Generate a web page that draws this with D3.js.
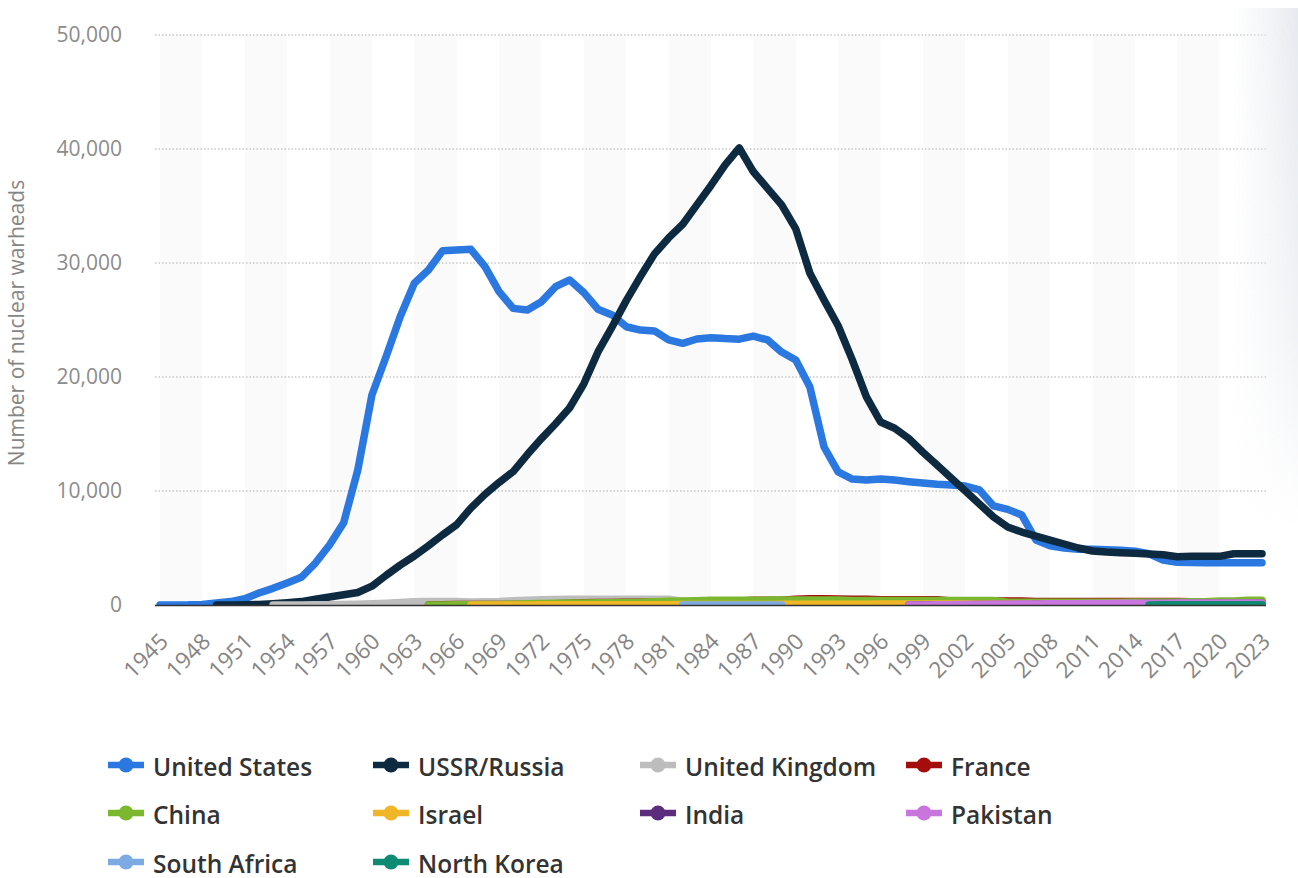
<!DOCTYPE html>
<html>
<head>
<meta charset="utf-8">
<script src="https://cdn.jsdelivr.net/npm/d3@7"></script>
<style>
  html, body { margin: 0; padding: 0; background: #fff; }
  svg { display: block; font-family: 'Open Sans', 'Noto Sans', sans-serif; }
</style>
</head>
<body>
<div id="chart"></div>
<script>
// Nuclear warhead stockpiles by country, 1945-2023

const firstYear = 1945;
const lastYear = 2023;
const tickYears = [1945, 1948, 1951, 1954, 1957, 1960, 1963, 1966, 1969, 1972, 1975, 1978, 1981,
  1984, 1987, 1990, 1993, 1996, 1999, 2002, 2005, 2008, 2011, 2014, 2017, 2020, 2023];
const yTicks = [0, 10000, 20000, 30000, 40000, 50000];

// values start at the "start" year of each series, one per year
const usStart = 1945;
const usValues = [
  2, 9, 13, 50, 170, 300, 550, 1050, 1460, 1930,            // 1945-1954
  2430, 3680, 5260, 7220, 11840, 18420, 21780, 25290, 28220, 29390, // 1955-1964
  31080, 31140, 31200, 29680, 27490, 26020, 25880, 26610, 27920, 28510, // 1965-1974
  27400, 25940, 25440, 24410, 24120, 24040, 23250, 22950, 23330, 23450, // 1975-1984
  23370, 23320, 23580, 23250, 22190, 21490, 19120, 13860, 11670, 11050, // 1985-1994
  10960, 11050, 10960, 10820, 10700, 10590, 10530, 10440, 10090, 8690,  // 1995-2004
  8390, 7890, 5700, 5200, 5000, 4900, 4880, 4850, 4800, 4720,           // 2005-2014
  4500, 3950, 3750, 3720, 3710, 3700, 3700, 3700, 3700                  // 2015-2023
];

const ussrStart = 1949;
const ussrValues = [
  1, 5, 25, 50, 120, 200, 300, 500, 700, 900,                // 1949-1958
  1100, 1650, 2600, 3500, 4300, 5200, 6150, 7050, 8500, 9700, // 1959-1968
  10750, 11700, 13200, 14600, 15900, 17300, 19400, 22200, 24400, 26700, // 1969-1978
  28800, 30800, 32200, 33400, 35100, 36800, 38600, 40100, 38000, 36550, // 1979-1988
  35100, 33000, 29100, 26750, 24500, 21500, 18250, 16050, 15500, 14600, // 1989-1998
  13400, 12280, 11140, 10000, 8860, 7720, 6840, 6400, 6050, 5700,       // 1999-2008
  5350, 5000, 4740, 4650, 4590, 4530, 4470, 4410, 4240, 4270,           // 2009-2018
  4270, 4270, 4490, 4490, 4490                                          // 2019-2023
];

const ukStart = 1953;
const ukValues = [
  1, 5, 10, 20, 30, 40, 60, 100, 150, 210,        // 1953-1962
  280, 310, 310, 310, 270, 280, 308, 375, 420, 450, // 1963-1972
  480, 500, 500, 500, 500, 500, 500, 500, 500, 335, // 1973-1982
  320, 270, 300, 300, 300, 300, 300, 300, 300, 300, // 1983-1992
  300, 250, 280, 280, 280, 280, 280, 280, 280, 280, // 1993-2002
  280, 280, 280, 225, 225, 225, 225, 225, 225, 225, // 2003-2012
  225, 225, 225, 225, 225, 225, 225, 225, 225, 225, 225 // 2013-2023
];

const franceStart = 1964;
const franceValues = [
  4, 32, 36, 36, 36, 36, 36, 45, 70, 116,          // 1964-1973
  145, 188, 212, 228, 235, 235, 250, 274, 274, 279, // 1974-1983
  280, 360, 355, 420, 411, 412, 504, 538, 540, 525, // 1984-1993
  510, 500, 450, 450, 450, 450, 470, 350, 350, 350, // 1994-2003
  350, 350, 350, 300, 300, 300, 300, 300, 300, 300, // 2004-2013
  300, 300, 300, 300, 290, 290, 290, 290, 290, 290  // 2014-2023
];

const chinaStart = 1964;
const chinaValues = [
  1, 5, 20, 25, 35, 50, 75, 100, 130, 150,          // 1964-1973
  170, 185, 190, 200, 220, 235, 280, 330, 360, 380, // 1974-1983
  415, 425, 425, 415, 430, 430, 430, 435, 435, 435, // 1984-1993
  400, 400, 400, 400, 400, 400, 400, 400, 400, 400, // 1994-2003
  400, 235, 235, 235, 240, 240, 240, 240, 250, 250, // 2004-2013
  260, 260, 260, 270, 280, 290, 350, 350, 410, 410  // 2014-2023
];

const israelStart = 1967;
const israelValues = [
  2, 4, 6, 8, 10, 12, 14, 16, 18, 20,     // 1967-1976
  22, 24, 26, 28, 31, 34, 37, 40, 43, 46, // 1977-1986
  50, 53, 56, 59, 62, 65, 68, 71, 74, 77, // 1987-1996
  80, 80, 80, 80, 80, 80, 80, 80, 80, 80, // 1997-2006
  80, 80, 80, 80, 80, 80, 80, 80, 80, 80, // 2007-2016
  80, 80, 90, 90, 90, 90, 90              // 2017-2023
];

const indiaStart = 1998;
const indiaValues = [
  10, 15, 20, 25, 30, 35, 40, 45, 50, 55,
  60, 70, 80, 90, 100, 110, 120, 130, 130, 135,
  140, 150, 156, 160, 164, 172
];

const pakistanStart = 1998;
const pakistanValues = [
  5, 10, 20, 30, 40, 50, 60, 70, 80, 90,
  100, 110, 120, 130, 140, 150, 155, 160, 160, 165,
  165, 165, 165, 165, 170, 170
];

const southAfricaStart = 1982;
const southAfricaValues = [1, 2, 3, 4, 5, 6, 6, 6];

const northKoreaStart = 2015;
const northKoreaValues = [10, 15, 20, 25, 30, 30, 30, 30, 30];

const seriesNames = ['United States', 'USSR/Russia', 'United Kingdom', 'France', 'China',
  'Israel', 'India', 'Pakistan', 'South Africa', 'North Korea'];
const seriesColors = ['#2a78e0', '#0e2a40', '#bdbdbd', '#a50d0d', '#7cb82f',
  '#efb628', '#5c2d7d', '#c875de', '#7eaae3', '#0e8b70'];
const seriesStarts = [usStart, ussrStart, ukStart, franceStart, chinaStart,
  israelStart, indiaStart, pakistanStart, southAfricaStart, northKoreaStart];
const seriesValues = [usValues, ussrValues, ukValues, franceValues, chinaValues,
  israelValues, indiaValues, pakistanValues, southAfricaValues, northKoreaValues];

const width = 1298;
const height = 878;
const plot = { left: 155, right: 1266, top: 35, bottom: 605 };

const svg = d3.select('#chart').append('svg')
  .attr('width', width)
  .attr('height', height);

const defs = svg.append('defs');

// x: years, y: warheads
const x = d3.scaleLinear().domain([firstYear, lastYear]).range([160, 1262]);
const y = d3.scaleLinear().domain([0, 50000]).range([plot.bottom, plot.top]);

// alternating column bands, one every 3 years
const bandStarts = tickYears.filter((d, i) => i % 2 === 0 && d < lastYear);
svg.append('g')
  .selectAll('rect')
  .data(bandStarts)
  .join('rect')
  .attr('x', d => x(d))
  .attr('y', plot.top)
  .attr('width', d => x(d + 3) - x(d))
  .attr('height', plot.bottom - plot.top)
  .attr('fill', '#fafafa');

// dotted gridlines
svg.append('g')
  .selectAll('line')
  .data(yTicks.filter(d => d > 0))
  .join('line')
  .attr('x1', plot.left)
  .attr('x2', plot.right)
  .attr('y1', d => y(d))
  .attr('y2', d => y(d))
  .attr('stroke', '#c8c8c8')
  .attr('stroke-width', 1.5)
  .attr('stroke-dasharray', '1.5,2');

// y axis labels
const yAxis = d3.axisLeft(y)
  .tickValues(yTicks)
  .tickSize(0)
  .tickPadding(0)
  .tickFormat(d3.format(','));

svg.append('g')
  .attr('transform', 'translate(122,0)')
  .call(yAxis)
  .call(g => g.select('.domain').remove())
  .selectAll('text')
  .attr('font-family', "'Open Sans', sans-serif")
  .attr('font-size', 21)
  .attr('fill', '#8c8c8c');

// y axis title
svg.append('text')
  .attr('transform', 'translate(24,323) rotate(-90)')
  .attr('text-anchor', 'middle')
  .attr('font-size', 21)
  .attr('fill', '#858585')
  .text('Number of nuclear warheads');

// x axis labels, rotated
const xAxis = d3.axisBottom(x)
  .tickValues(tickYears)
  .tickSize(0)
  .tickPadding(0)
  .tickFormat(d3.format('d'));

svg.append('g')
  .attr('transform', `translate(0,${plot.bottom})`)
  .call(xAxis)
  .call(g => g.select('.domain').remove())
  .selectAll('text')
  .attr('font-family', "'Open Sans', sans-serif")
  .attr('font-size', 22.5)
  .attr('fill', '#858585')
  .attr('text-anchor', 'end')
  .attr('dy', null)
  .attr('y', 0)
  .attr('transform', 'translate(9,38) rotate(-45)');

// clip series to the plot area
defs.append('clipPath')
  .attr('id', 'plot-clip')
  .append('rect')
  .attr('x', 0)
  .attr('y', 0)
  .attr('width', width)
  .attr('height', plot.bottom);

const line = d3.line()
  .x(d => x(d.year))
  .y(d => y(d.value));

const series = seriesNames.map((name, i) => ({
  name,
  color: seriesColors[i],
  points: seriesValues[i].map((v, j) => ({ year: seriesStarts[i] + j, value: v }))
}));

svg.append('g')
  .attr('clip-path', 'url(#plot-clip)')
  .selectAll('path')
  .data(series)
  .join('path')
  .attr('d', d => line(d.points))
  .attr('fill', 'none')
  .attr('stroke', d => d.color)
  .attr('stroke-width', 7.5)
  .attr('stroke-linejoin', 'round')
  .attr('stroke-linecap', 'round');

// baseline
svg.append('line')
  .attr('x1', plot.left)
  .attr('x2', plot.right)
  .attr('y1', plot.bottom + 0.5)
  .attr('y2', plot.bottom + 0.5)
  .attr('stroke', '#333')
  .attr('stroke-width', 1.5);

// legend, 4 columns
const legendCols = [108, 373, 640, 906];
const legendRows = [767, 815, 864];

const legend = svg.append('g')
  .selectAll('g')
  .data(series)
  .join('g')
  .attr('transform', (d, i) => `translate(${legendCols[i % 4]},${legendRows[Math.floor(i / 4)]})`);

legend.append('line')
  .attr('x1', 0)
  .attr('x2', 36)
  .attr('y1', -2)
  .attr('y2', -2)
  .attr('stroke', d => d.color)
  .attr('stroke-width', 6.5);

legend.append('circle')
  .attr('cx', 18)
  .attr('cy', -2)
  .attr('r', 7.5)
  .attr('fill', d => d.color);

legend.append('text')
  .attr('x', 45)
  .attr('y', 8.5)
  .attr('font-size', 24.5)
  .attr('font-weight', 600)
  .attr('fill', '#333')
  .text(d => d.name);

// soft shadow at the right edge of the frame
const hGrad = defs.append('linearGradient')
  .attr('id', 'edge-h')
  .attr('x1', 0).attr('x2', 1).attr('y1', 0).attr('y2', 0);
hGrad.append('stop').attr('offset', 0).attr('stop-color', '#eef0f4').attr('stop-opacity', 0);
hGrad.append('stop').attr('offset', 1).attr('stop-color', '#e6e9ee').attr('stop-opacity', 1);

const vGrad = defs.append('linearGradient')
  .attr('id', 'edge-v')
  .attr('x1', 0).attr('x2', 0).attr('y1', 0).attr('y2', 1);
vGrad.append('stop').attr('offset', 0).attr('stop-color', '#fff').attr('stop-opacity', 1);
vGrad.append('stop').attr('offset', 0.6).attr('stop-color', '#fff').attr('stop-opacity', 0.6);
vGrad.append('stop').attr('offset', 1).attr('stop-color', '#fff').attr('stop-opacity', 0);

defs.append('mask')
  .attr('id', 'edge-mask')
  .append('rect')
  .attr('x', 1230).attr('y', 8)
  .attr('width', 68).attr('height', 520)
  .attr('fill', 'url(#edge-v)');

svg.append('rect')
  .attr('x', 1230).attr('y', 8)
  .attr('width', 68).attr('height', 520)
  .attr('fill', 'url(#edge-h)')
  .attr('mask', 'url(#edge-mask)');
</script>
</body>
</html>
